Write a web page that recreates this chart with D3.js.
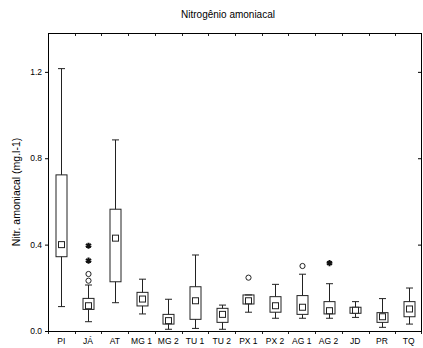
<!DOCTYPE html>
<html>
	<head>
		<meta http-equiv="Content-Type" content="text/html;charset=utf-8"/>
		<title>Nitrogênio amoniacal</title>
		<script src="https://d3js.org/d3.v7.min.js"></script>
		<style type="text/css">
			body { margin: 0; background: #fff; }
			text { font-family: "Liberation Sans", Arial, sans-serif; fill: #000; }
			.box { fill: none; stroke: #222; stroke-width: 1; }
			.whisk { stroke: #222; stroke-width: 1; }
			.med { fill: #fff; stroke: #222; stroke-width: 1; }
			.out { fill: #fff; stroke: #222; stroke-width: 1; }
			.ext { fill: none; stroke: #111; stroke-width: 2; }
			.frame { fill: none; stroke: #000; stroke-width: 1; }
		</style>
	</head>
	<body>
		<script type="text/javascript">

			//Sites along the x axis
			var sites = ["PI", "JÁ", "AT", "MG 1", "MG 2", "TU 1", "TU 2", "PX 1", "PX 2", "AG 1", "AG 2", "JD", "PR", "TQ"];

			//Box plot values (mg.l-1)
			var whiskLow  = [0.113, 0.043, 0.131, 0.079, 0.008, 0.012, 0.008, 0.087, 0.059, 0.059, 0.059, 0.063, 0.017, 0.032];
			var boxLow    = [0.344, 0.100, 0.228, 0.116, 0.032, 0.054, 0.040, 0.125, 0.087, 0.077, 0.079, 0.082, 0.040, 0.066];
			var medians   = [0.400, 0.117, 0.430, 0.148, 0.048, 0.140, 0.077, 0.140, 0.117, 0.110, 0.094, 0.096, 0.066, 0.102];
			var boxHigh   = [0.723, 0.151, 0.564, 0.179, 0.077, 0.205, 0.105, 0.167, 0.159, 0.164, 0.136, 0.110, 0.085, 0.136];
			var whiskHigh = [1.215, 0.213, 0.885, 0.240, 0.147, 0.352, 0.120, 0.167, 0.216, 0.263, 0.219, 0.136, 0.150, 0.199];

			//Outliers (circles) and extremes (asterisks)
			var outliers = [["JÁ", 0.233], ["JÁ", 0.264], ["PX 1", 0.247], ["AG 1", 0.301]];
			var extremes = [["JÁ", 0.326], ["JÁ", 0.395], ["AG 2", 0.314]];

			var yTicks = [0, 0.4, 0.8, 1.2];

			var data = sites.map(function(s, i) {
				return { site: s, wl: whiskLow[i], bl: boxLow[i], md: medians[i], bh: boxHigh[i], wh: whiskHigh[i] };
			});

			var w = 423, h = 348;
			var pLeft = 48, pRight = 422, pTop = 33, pBottom = 331;
			var bw = 11, cap = 7, ms = 6;

			var svg = d3.select("body").append("svg")
						.attr("width", w)
						.attr("height", h);

			var x = d3.scaleBand()
					  .domain(sites)
					  .range([pLeft, pRight]);

			var y = d3.scaleLinear()
					  .domain([0, 1.38])
					  .range([pBottom, pTop]);

			function cx(s) { return Math.round(x(s) + x.bandwidth() / 2) + 0.5; }

			//Title and axis label
			svg.append("text")
				.attr("x", 228)
				.attr("y", 18)
				.attr("text-anchor", "middle")
				.style("font-size", "10px")
				.text("Nitrogênio amoniacal");

			svg.append("text")
				.attr("transform", "translate(20," + 192 + ") rotate(-90)")
				.attr("text-anchor", "middle")
				.style("font-size", "10.5px")
				.text("Nitr. amoniacal (mg.l-1)");

			//Axes
			var yAxisL = d3.axisLeft(y).tickValues(yTicks).tickFormat(d3.format(".1f")).tickSize(3).tickPadding(3);
			var gl = svg.append("g").attr("transform", "translate(" + pLeft + ",0)").call(yAxisL);
			gl.select(".domain").remove();
			gl.selectAll("text").style("font-size", "8.5px").style("font-family", "Liberation Sans, Arial, sans-serif");

			var yAxisR = d3.axisRight(y).tickValues(yTicks).tickFormat("").tickSize(-3);
			var gr = svg.append("g").attr("transform", "translate(" + (pRight - 1) + ",0)").call(yAxisR);
			gr.select(".domain").remove();

			var bounds = sites.map(function(s) { return Math.round(x(s)) + 0.5; }).concat([pRight - 0.5]);

			var xAxis = d3.axisBottom(x).tickSize(0).tickPadding(7);
			var gx = svg.append("g").attr("transform", "translate(0," + pBottom + ")").call(xAxis);
			gx.select(".domain").remove();
			gx.selectAll("text").style("font-size", "8.5px").style("font-family", "Liberation Sans, Arial, sans-serif");

			svg.selectAll("line.btick")
				.data(bounds)
				.enter()
				.append("line")
				.attr("class", "whisk")
				.attr("x1", function(d) { return d; })
				.attr("x2", function(d) { return d; })
				.attr("y1", pBottom)
				.attr("y2", pBottom + 3);

			svg.selectAll("line.ttick")
				.data(bounds)
				.enter()
				.append("line")
				.attr("class", "whisk")
				.attr("x1", function(d) { return d; })
				.attr("x2", function(d) { return d; })
				.attr("y1", pTop)
				.attr("y2", pTop + 3);

			svg.append("rect")
				.attr("class", "frame")
				.attr("x", pLeft + 0.5)
				.attr("y", pTop + 0.5)
				.attr("width", pRight - pLeft - 1)
				.attr("height", pBottom - pTop);

			//Boxes
			var g = svg.selectAll("g.site")
						.data(data)
						.enter()
						.append("g")
						.attr("class", "site");

			g.append("line")
				.attr("class", "whisk")
				.attr("x1", function(d) { return cx(d.site); })
				.attr("x2", function(d) { return cx(d.site); })
				.attr("y1", function(d) { return y(d.wh); })
				.attr("y2", function(d) { return y(d.bh); });

			g.append("line")
				.attr("class", "whisk")
				.attr("x1", function(d) { return cx(d.site); })
				.attr("x2", function(d) { return cx(d.site); })
				.attr("y1", function(d) { return y(d.bl); })
				.attr("y2", function(d) { return y(d.wl); });

			g.selectAll("line.cap")
				.data(function(d) { return [[d.site, d.wh], [d.site, d.wl]]; })
				.enter()
				.append("line")
				.attr("class", "whisk")
				.attr("x1", function(d) { return cx(d[0]) - cap / 2; })
				.attr("x2", function(d) { return cx(d[0]) + cap / 2; })
				.attr("y1", function(d) { return y(d[1]); })
				.attr("y2", function(d) { return y(d[1]); });

			g.append("rect")
				.attr("class", "box")
				.attr("x", function(d) { return cx(d.site) - bw / 2; })
				.attr("width", bw)
				.attr("y", function(d) { return y(d.bh); })
				.attr("height", function(d) { return y(d.bl) - y(d.bh); });

			g.append("rect")
				.attr("class", "med")
				.attr("x", function(d) { return cx(d.site) - ms / 2; })
				.attr("width", ms)
				.attr("y", function(d) { return y(d.md) - ms / 2; })
				.attr("height", ms);

			//Outliers and extremes
			svg.selectAll("circle.out")
				.data(outliers)
				.enter()
				.append("circle")
				.attr("class", "out")
				.attr("cx", function(d) { return cx(d[0]); })
				.attr("cy", function(d) { return y(d[1]); })
				.attr("r", 2.6);

			var star = d3.symbol().type(d3.symbolAsterisk).size(26);
			svg.selectAll("path.ext")
				.data(extremes)
				.enter()
				.append("path")
				.attr("class", "ext")
				.attr("d", star)
				.attr("transform", function(d) { return "translate(" + cx(d[0]) + "," + y(d[1]) + ")"; });

		</script>
	</body>
</html>
